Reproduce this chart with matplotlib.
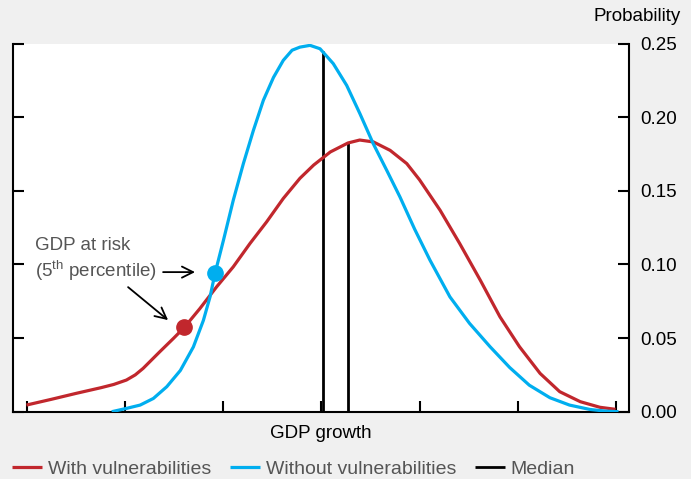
import numpy as np
import matplotlib
matplotlib.use("Agg")
import matplotlib.pyplot as plt

plt.rcParams["font.family"] = ["Liberation Sans", "DejaVu Sans"]
plt.rcParams["mathtext.fontset"] = "custom"
plt.rcParams["mathtext.rm"] = "Liberation Sans"
plt.rcParams["mathtext.it"] = "Liberation Sans"

# ----------------------------------------------------------------------------
# Data (x = GDP growth, y = probability density)
# ----------------------------------------------------------------------------
with_x = [-3.01, -2.75, -2.50, -2.25, -2.12, -1.99, -1.90, -1.82, -1.65, -1.51,
          -1.40, -1.24, -1.07, -0.90, -0.73, -0.56, -0.39, -0.22, -0.08, 0.09,
          0.27, 0.39, 0.53, 0.70, 0.87, 1.00, 1.21, 1.41, 1.62, 1.82,
          2.02, 2.23, 2.43, 2.64, 2.84, 3.00]
with_y = [0.0045, 0.0085, 0.0125, 0.0163, 0.0185, 0.0215, 0.025, 0.0294, 0.0407, 0.0498,
          0.0572, 0.0701, 0.0848, 0.0984, 0.1142, 0.1289, 0.1448, 0.1585, 0.1675, 0.1764,
          0.1825, 0.1845, 0.1832, 0.1775, 0.1685, 0.1575, 0.1368, 0.1142, 0.0893, 0.0645,
          0.0441, 0.026, 0.0136, 0.0068, 0.003, 0.0016]

without_x = [-2.14, -1.986, -1.85, -1.715, -1.578, -1.44, -1.307, -1.205, -1.137, -1.086,
             -1.0, -0.90, -0.797, -0.695, -0.593, -0.49, -0.39, -0.30, -0.22, -0.117,
             -0.015, 0.12, 0.257, 0.392, 0.528, 0.665, 0.80, 0.95, 1.106, 1.31,
             1.51, 1.72, 1.92, 2.12, 2.33, 2.53, 2.74, 2.90, 3.03]
without_y = [0.0, 0.0023, 0.0045, 0.009, 0.017, 0.028, 0.044, 0.062, 0.078, 0.094,
             0.1165, 0.1436, 0.1685, 0.191, 0.2115, 0.227, 0.2386, 0.2455, 0.2476, 0.2488,
             0.2465, 0.2364, 0.2216, 0.2024, 0.182, 0.164, 0.1459, 0.124, 0.103, 0.078,
             0.060, 0.0441, 0.030, 0.018, 0.0095, 0.0045, 0.0015, 0.0004, 0.0]

median_x = [0.012, 0.273]
median_y = [0.245, 0.1825]

risk_with = (-1.40, 0.0572)
risk_without = (-1.086, 0.094)

yticks = [0.0, 0.05, 0.10, 0.15, 0.20, 0.25]
xticks = [-3, -2, -1, 0, 1, 2, 3]

RED = "#c1272d"
BLUE = "#00aeef"
GREY = "#555555"

fig = plt.figure(figsize=(6.91, 4.79), dpi=100, facecolor="#f0f0f0")
ax = fig.add_axes([0.0184, 0.1405, 0.8916, 0.7685])
ax.set_facecolor("white")

ax.plot(with_x, with_y, color=RED, lw=2.3, label="With vulnerabilities", zorder=3,
        solid_capstyle="butt", solid_joinstyle="round")
ax.plot(without_x, without_y, color=BLUE, lw=2.3, label="Without vulnerabilities",
        zorder=3, solid_capstyle="butt", solid_joinstyle="round")
ax.vlines(median_x, 0, median_y, color="black", lw=2.0, label="Median", zorder=2)

ax.plot(*risk_with, "o", color=RED, ms=11, zorder=4)
ax.plot(*risk_without, "o", color=BLUE, ms=11, zorder=4)

ax.text(-2.92, 0.103, "GDP at risk\n(5$^{\\mathrm{th}}$ percentile)", color=GREY,
        fontsize=13.5, ha="left", va="center", linespacing=1.25)
arrow = dict(arrowstyle="->,head_length=0.8,head_width=0.4", lw=1.3, color="black",
             shrinkA=0, shrinkB=0)
ax.annotate("", xy=(-1.29, 0.0948), xytext=(-1.616, 0.0948), arrowprops=arrow)
ax.annotate("", xy=(-1.565, 0.0622), xytext=(-1.973, 0.0846), arrowprops=arrow)

ax.set_xlim(-3.15, 3.135)
ax.set_ylim(0, 0.25)
ax.set_xticks(xticks)
ax.set_xticklabels([])
ax.set_yticks(yticks)
ax.set_yticklabels([f"{v:.2f}" for v in yticks])
ax.tick_params(axis="y", left=True, right=True, labelleft=False, labelright=True,
               direction="in", length=8, width=1.5, labelsize=13.5, pad=8.5)
ax.tick_params(axis="x", direction="in", length=8, width=1.5, bottom=True)
for s in ["left", "right", "bottom"]:
    ax.spines[s].set_linewidth(1.5)
ax.spines["top"].set_visible(False)

ax.set_xlabel("GDP growth", fontsize=13.5, labelpad=6)
fig.text(0.985, 0.965, "Probability", fontsize=13.5, ha="right", va="center")

fig.legend(loc="lower left", bbox_to_anchor=(12 / 691, 1 / 479), ncol=3, frameon=False,
           fontsize=14, handlelength=1.55, handletextpad=0.3, columnspacing=0.95,
           borderpad=0, borderaxespad=0, labelcolor=GREY)

fig.savefig("out.png", dpi=100, facecolor=fig.get_facecolor())
